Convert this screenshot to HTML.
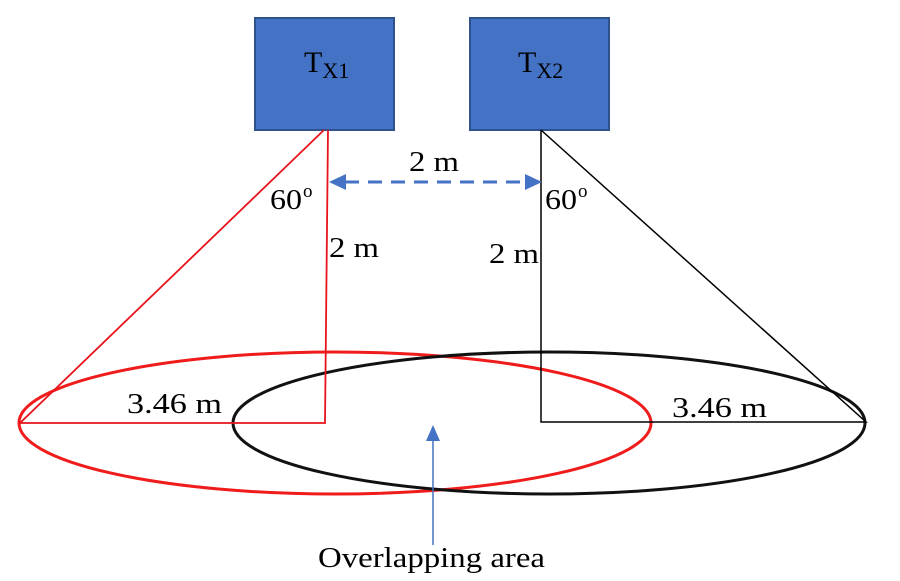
<!DOCTYPE html>
<html><head><style>body{margin:0;background:#fff}svg{display:block}text{font-family:"Liberation Serif",serif;fill:#000}</style></head>
<body>
<svg width="900" height="581" viewBox="0 0 900 581">
<rect x="255" y="18" width="139" height="112" fill="#4472c4" stroke="#2f528f" stroke-width="2"/>
<rect x="470" y="18" width="139" height="112" fill="#4472c4" stroke="#2f528f" stroke-width="2"/>
<text x="304" y="72" font-size="30">T<tspan font-size="22" dy="6">X1</tspan></text>
<text x="518" y="72" font-size="30">T<tspan font-size="22" dy="6">X2</tspan></text>
<ellipse cx="335" cy="423" rx="316" ry="71" fill="none" stroke="#f01c1c" stroke-width="3"/>
<ellipse cx="549" cy="423" rx="316" ry="71" fill="none" stroke="#111" stroke-width="3"/>
<polyline points="324,130 20,423 325,423 328,130" fill="none" stroke="#e8141c" stroke-width="1.8"/>
<polyline points="541,130 866,422 541,422 541,130" fill="none" stroke="#000" stroke-width="1.5"/>
<line x1="345" y1="182" x2="525" y2="182" stroke="#4472c4" stroke-width="3" stroke-dasharray="14,9"/>
<polygon points="329,182 346,174 346,190" fill="#4472c4"/>
<polygon points="542,182 525,174 525,190" fill="#4472c4"/>
<line x1="433" y1="440" x2="433" y2="545" stroke="#4472c4" stroke-width="1.5"/>
<polygon points="433,425 426,441 440,441" fill="#4472c4"/>
<text x="409" y="171" font-size="29" textLength="50" lengthAdjust="spacingAndGlyphs">2 m</text>
<text x="270" y="209" font-size="29" textLength="32" lengthAdjust="spacingAndGlyphs">60</text><text x="303" y="197" font-size="19">o</text>
<text x="545" y="209" font-size="29" textLength="32" lengthAdjust="spacingAndGlyphs">60</text><text x="578" y="197" font-size="19">o</text>
<text x="329" y="257" font-size="29" textLength="50" lengthAdjust="spacingAndGlyphs">2 m</text>
<text x="489" y="263" font-size="29" textLength="50" lengthAdjust="spacingAndGlyphs">2 m</text>
<text x="127" y="413" font-size="29" textLength="95" lengthAdjust="spacingAndGlyphs">3.46 m</text>
<text x="672" y="417" font-size="29" textLength="95" lengthAdjust="spacingAndGlyphs">3.46 m</text>
<text x="318" y="567" font-size="29" textLength="227" lengthAdjust="spacingAndGlyphs">Overlapping area</text>
</svg>
</body></html>
